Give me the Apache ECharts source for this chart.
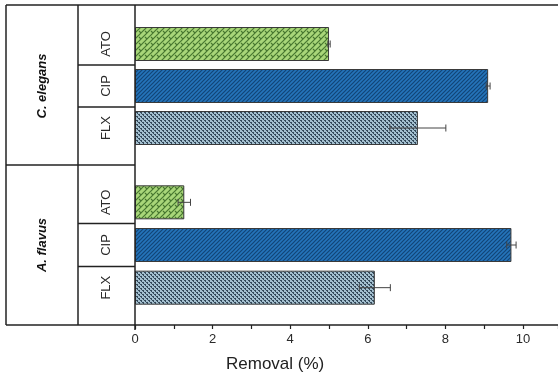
<!DOCTYPE html>
<html><head><meta charset="utf-8">
<script src="https://cdn.jsdelivr.net/npm/echarts@6/dist/echarts.min.js"></script>
<style>html,body{margin:0;padding:0;background:#fff}#c{width:558px;height:377px}</style>
</head><body><div id="c"></div>
<script>
const compounds = ['ATO', 'CIP', 'FLX'];
const organisms = ['C. elegans', 'A. flavus'];
const elegansRemoval = [5.0, 9.10, 7.29];
const elegansError = [0.03, 0.05, 0.72];
const flavusRemoval = [1.27, 9.70, 6.18];
const flavusError = [0.16, 0.12, 0.40];
const xTickLabels = ['0', '2', '4', '6', '8', '10'];

function makeTile(size, draw) {
  const c = document.createElement('canvas');
  c.width = size; c.height = size;
  const g = c.getContext('2d');
  draw(g, size);
  return { image: c, repeat: 'repeat' };
}
const greenPat = makeTile(6, (g, s) => {
  g.fillStyle = '#a8d679'; g.fillRect(0, 0, s, s);
  g.strokeStyle = '#46762f'; g.lineWidth = 1.2;
  g.beginPath();
  g.moveTo(-1, s + 1); g.lineTo(s + 1, -1);
  g.moveTo(-1, 1); g.lineTo(1, -1);
  g.moveTo(s - 1, s + 1); g.lineTo(s + 1, s - 1);
  g.moveTo(1, 1); g.lineTo(3.2, 3.2);
  g.stroke();
});
const bluePat = makeTile(4, (g, s) => {
  g.fillStyle = '#2574ba'; g.fillRect(0, 0, s, s);
  g.strokeStyle = '#124577'; g.lineWidth = 1.2;
  g.beginPath();
  g.moveTo(-1, s + 1); g.lineTo(s + 1, -1);
  g.moveTo(-1, 1); g.lineTo(1, -1);
  g.moveTo(s - 1, s + 1); g.lineTo(s + 1, s - 1);
  g.stroke();
});
const flxPat = makeTile(4, (g, s) => {
  g.fillStyle = '#a3bfcf'; g.fillRect(0, 0, s, s);
  g.fillStyle = '#34495a';
  g.fillRect(0, 0, 2, 1); g.fillRect(2, 2, 2, 1);
  g.fillRect(1, 1, 1, 1); g.fillRect(3, 3, 1, 1);
});
const patterns = [greenPat, bluePat, flxPat];

const chart = echarts.init(document.getElementById('c'), null, { renderer: 'canvas' });
const xMax = 10.9;
const lineCol = '#222';
const textCol = '#2a2a2a';
const font = 'Liberation Sans, Arial, sans-serif';

function barSeries(vals, idx) {
  return {
    type: 'bar', xAxisIndex: idx, yAxisIndex: idx * 2, barWidth: 34,
    data: vals.map((v, i) => ({ value: v, itemStyle: { color: patterns[i] } })),
    itemStyle: { borderColor: '#3a3a3a', borderWidth: 1 },
    silent: true
  };
}
function errSeries(vals, errs, idx) {
  return {
    type: 'custom', xAxisIndex: idx, yAxisIndex: idx * 2, z: 5,
    data: vals.map((v, i) => [v, errs[i], i]),
    encode: { x: 0, y: 2 },
    renderItem: (params, api) => {
      const v = api.value(0), e = api.value(1), cat = api.value(2);
      const lo = api.coord([v - e, cat]);
      const hi = api.coord([v + e, cat]);
      const h = 3.5;
      const st = { stroke: '#444', lineWidth: 1 };
      return { type: 'group', children: [
        { type: 'line', shape: { x1: lo[0], y1: lo[1], x2: hi[0], y2: hi[1] }, style: st },
        { type: 'line', shape: { x1: lo[0], y1: lo[1] - h, x2: lo[0], y2: lo[1] + h }, style: st },
        { type: 'line', shape: { x1: hi[0], y1: hi[1] - h, x2: hi[0], y2: hi[1] + h }, style: st }
      ]};
    }
  };
}
function compAxis(gi) {
  return {
    type: 'category', gridIndex: gi, data: compounds, inverse: true, position: 'left',
    axisLine: { show: false }, axisTick: { show: false },
    axisLabel: { rotate: 90, margin: 22, fontSize: 13, color: textCol, fontFamily: font }
  };
}
function orgAxis(gi) {
  return {
    type: 'category', gridIndex: gi, data: [organisms[gi]], offset: 57, position: 'left',
    axisLine: { show: false }, axisTick: { show: false },
    axisLabel: { rotate: 90, margin: 29, fontSize: 13, fontWeight: 'bold', fontStyle: 'italic', color: '#111', fontFamily: font }
  };
}
const L = (x1, y1, x2, y2) => ({ type: 'line', z: 100, shape: { x1, y1, x2, y2 }, style: { stroke: lineCol, lineWidth: 1.5 } });

chart.setOption({
  animation: false,
  grid: [
    { left: 135, right: 0, top: 23, height: 126, outerBoundsMode: 'none', containLabel: false },
    { left: 135, right: 0, top: 181, height: 128, outerBoundsMode: 'none', containLabel: false }
  ],
  xAxis: [
    { type: 'value', gridIndex: 0, min: 0, max: xMax, show: false, splitLine: { show: false } },
    { type: 'value', gridIndex: 1, min: 0, max: xMax, interval: 2, offset: 16,
      splitLine: { show: false },
      axisLine: { show: true, lineStyle: { color: lineCol, width: 1.5 } },
      axisTick: { show: true, inside: false, length: 4, lineStyle: { color: lineCol, width: 1.2 } },
      minorTick: { show: true, splitNumber: 2, length: 4, lineStyle: { color: lineCol, width: 1.2 } },
      axisLabel: { margin: 8, fontSize: 13, color: textCol, fontFamily: font, showMaxLabel: false,
        formatter: v => xTickLabels[Math.round(v / 2)] ?? '' }
    }
  ],
  yAxis: [compAxis(0), orgAxis(0), compAxis(1), orgAxis(1)],
  series: [
    barSeries(elegansRemoval, 0), errSeries(elegansRemoval, elegansError, 0),
    barSeries(flavusRemoval, 1), errSeries(flavusRemoval, flavusError, 1)
  ],
  graphic: [
    L(6, 5, 558, 5),
    L(6, 325, 135, 325),
    L(6, 5, 6, 325),
    L(78, 5, 78, 325),
    L(135, 5, 135, 330),
    L(6, 165, 135, 165),
    L(78, 65, 135, 65),
    L(78, 107, 135, 107),
    L(78, 223.5, 135, 223.5),
    L(78, 266.5, 135, 266.5),
    { type: 'text', z: 100, left: 226, top: 356,
      style: { text: 'Removal (%)', fontSize: 17, fill: '#222', fontFamily: font } }
  ]
});
</script></body></html>
